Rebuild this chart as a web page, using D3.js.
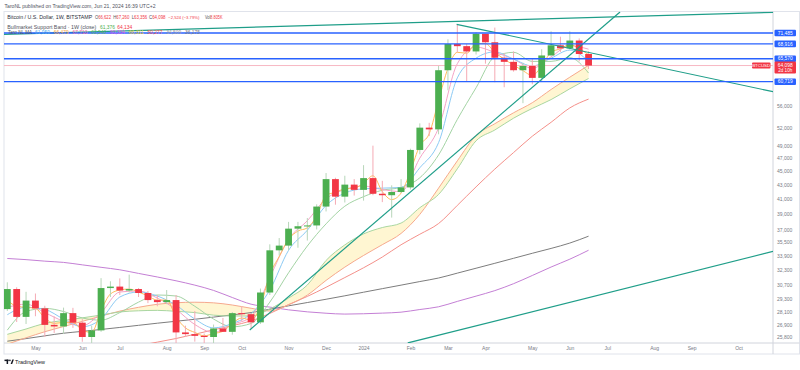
<!DOCTYPE html>
<html>
<head>
<meta charset="utf-8">
<script src="https://cdn.jsdelivr.net/npm/d3@7"></script>
<style>
  body { margin: 0; background: #fff; }
  svg { display: block; font-family: "Liberation Sans", Arial, sans-serif; }
</style>
</head>
<body>
<svg id="chart" width="800" height="370"></svg>
<script>
// BTCUSD weekly candles (Bitstamp), Apr 2023 - Jun 2024
const weekDates = [
  "2023-04-10", "2023-04-17", "2023-04-24", "2023-05-01", "2023-05-08", "2023-05-15", "2023-05-22", "2023-05-29",
  "2023-06-05", "2023-06-12", "2023-06-19", "2023-06-26", "2023-07-03", "2023-07-10", "2023-07-17", "2023-07-24",
  "2023-07-31", "2023-08-07", "2023-08-14", "2023-08-21", "2023-08-28", "2023-09-04", "2023-09-11", "2023-09-18",
  "2023-09-25", "2023-10-02", "2023-10-09", "2023-10-16", "2023-10-23", "2023-10-30", "2023-11-06", "2023-11-13",
  "2023-11-20", "2023-11-27", "2023-12-04", "2023-12-11", "2023-12-18", "2023-12-25", "2024-01-01", "2024-01-08",
  "2024-01-15", "2024-01-22", "2024-01-29", "2024-02-05", "2024-02-12", "2024-02-19", "2024-02-26", "2024-03-04",
  "2024-03-11", "2024-03-18", "2024-03-25", "2024-04-01", "2024-04-08", "2024-04-15", "2024-04-22", "2024-04-29",
  "2024-05-06", "2024-05-13", "2024-05-20", "2024-05-27", "2024-06-03", "2024-06-10", "2024-06-17"
];
const opens = [
  28330, 30300, 27600, 29150, 28400, 26870, 26730, 27950, 27070, 25800, 26380, 30400, 30550, 30150, 30300, 29900,
  29200, 29000, 29200, 26200, 26050, 25900, 25800, 26550, 26250, 27950, 27850, 27100, 29950, 34500, 35050, 37100,
  37400, 37500, 39950, 43800, 41300, 43000, 42250, 43950, 41700, 41500, 41950, 42600, 48300, 52050, 51750, 63100,
  68900, 68400, 67200, 71300, 69300, 65800, 64900, 63100, 64000, 61500, 66300, 68600, 67900, 69700, 66622
];
const highs = [
  30990, 30480, 30020, 29850, 28650, 27650, 28470, 28450, 27400, 26800, 31430, 31100, 31400, 31800, 30400, 30100,
  29700, 30200, 29700, 26800, 28150, 26100, 26900, 27500, 28050, 28580, 27950, 30350, 35200, 35950, 37950, 37950,
  38450, 40250, 44700, 44000, 44300, 43800, 45900, 49000, 43550, 42900, 43800, 48500, 52800, 52900, 64000, 70000,
  73600, 68900, 71700, 71300, 72800, 66800, 67200, 64700, 65500, 67700, 71900, 70600, 71900, 70200, 67260
];
const lows = [
  28150, 27130, 26950, 27660, 25810, 26150, 26080, 26600, 25390, 24800, 26250, 29500, 29700, 29950, 29500, 28900,
  28600, 28800, 25200, 25800, 25400, 24900, 24900, 26350, 26000, 27200, 26550, 26950, 29700, 33900, 34500, 34800,
  35650, 37000, 39300, 40200, 40500, 41450, 40750, 41500, 40550, 38500, 41800, 42300, 47600, 50600, 50900, 59000,
  67000, 60800, 66500, 64500, 60600, 59600, 62800, 56500, 60200, 60700, 66300, 67100, 67600, 65000, 63356
];
const closes = [
  30300, 27600, 29150, 28400, 26870, 26730, 27950, 27070, 25800, 26380, 30400, 30550, 30150, 30300, 29900, 29200,
  29000, 29200, 26200, 26050, 25900, 25800, 26550, 26250, 27950, 27850, 27100, 29950, 34500, 35050, 37100, 37400,
  37500, 39950, 43800, 41300, 43000, 42250, 43950, 41700, 41500, 41950, 42600, 48300, 52050, 51750, 63100, 68900,
  68400, 67200, 71300, 69300, 65800, 64900, 63100, 64000, 61500, 66300, 68600, 67900, 69700, 66622, 64098
];

// fast MA, one value per week
const maOrange = [
  29200, 28600, 28500, 28400, 27500, 27000, 27100, 27100, 26400, 26200, 28200, 29800, 30200, 30300, 30000, 29600,
  29200, 29200, 27600, 26600, 26200, 25900, 26100, 26300, 27000, 27500, 27300, 28600, 31800, 33800, 35800, 36800,
  37200, 38700, 41500, 41900, 42400, 42500, 43200, 44300, 42000, 40900, 41800, 45000, 49000, 51000, 57000, 63500,
  67000, 66800, 69000, 69000, 67000, 65500, 64200, 63000, 62000, 64000, 67000, 67800, 68800, 67800, 66479
];
// slower lines, read every second week (weeks 0, 2, 4 ... of weekDates)
const maBlue = [27800, 28500, 28300, 27400, 26700, 27400, 29500, 30000, 29600, 28700, 27400, 26600, 27000, 27900, 30200, 34500,
  36900, 40100, 41800, 42400, 42500, 42600, 45500, 49500, 61500, 65700, 67100, 65500, 64000, 65700, 67500, 65000];
const maPink = [28500, 28800, 28000, 27200, 26800, 28000, 30000, 30100, 29400, 28300, 26900, 26200, 26900, 27600, 31500, 35800,
  38100, 41000, 42300, 42800, 42300, 42000, 47000, 52000, 64500, 68200, 67000, 65500, 63500, 66000, 68500, 67710];
const maGreen = [26400, 28100, 28400, 28100, 27500, 27300, 28000, 29000, 29700, 29600, 28600, 27400, 26700, 27000, 29000, 32000,
  35000, 37700, 40000, 41300, 42200, 42600, 44000, 47500, 53500, 59500, 66000, 67000, 65000, 65000, 65800, 62500];
const bandSma = [25190, 25730, 26260, 26720, 27190, 27670, 28140, 28500, 28790, 28940, 28990, 28930, 28720, 28410, 28150, 28740,
  29690, 31190, 32610, 33910, 35160, 36510, 38920, 42500, 46570, 50700, 52740, 54710, 56590, 59150, 61640, 64134];
const bandEma = [26030, 26500, 27010, 27270, 27510, 27770, 28060, 28170, 28210, 28120, 28000, 27760, 27680, 27680, 28340, 29400,
  30710, 33350, 35130, 36450, 37240, 37800, 39800, 41610, 45340, 49800, 51640, 53730, 55520, 57180, 59290, 61376];
const maRed = [23490, 23730, 23970, 24210, 24410, 24620, 24790, 25070, 25360, 25670, 26040, 26430, 26800, 27230, 27920, 28760,
  29560, 30480, 31490, 32540, 33730, 35150, 36410, 37740, 40110, 42680, 45300, 47880, 50580, 52990, 55610, 57277];
const maGrey = [25440, 25660, 25900, 26130, 26290, 26460, 26640, 26830, 27020, 27200, 27380, 27580, 27790, 28000, 28320, 28640,
  28960, 29280, 29620, 29980, 30340, 30700, 31070, 31440, 31960, 32490, 33030, 33590, 34160, 34720, 35350, 36175];
const maPurple = [33570, 33440, 33270, 33130, 32860, 32590, 32320, 31930, 31550, 31150, 30700, 30160, 29450, 28800, 28520, 28260,
  28070, 27940, 27860, 27890, 27950, 28040, 28290, 28550, 29070, 29590, 30140, 30850, 31710, 32620, 33490, 34509];

// drawings
const trendLines = [
  [["2023-04-04T13:00Z", 71130], ["2024-11-01T17:00Z", 76600]],
  [["2023-10-08T00:00Z", 26415], ["2024-07-10T12:00Z", 76700]],
  [["2024-03-10T12:00Z", 73600], ["2024-11-01T17:00Z", 58720]],
  [["2024-02-03T00:00Z", 25290], ["2024-11-01T17:00Z", 34370]]
];
const levels = [71485, 68916, 65570, 60719];
const lastPrice = 64098;

// axes
const priceTicks = [56000, 52000, 49000, 47000, 45000, 43000, 41000, 39000, 37000, 35500, 33900, 32300, 30700, 29300, 28100, 26900, 25800];
const monthDates = ["2023-05-01", "2023-06-05", "2023-07-03", "2023-08-07", "2023-09-04", "2023-10-02", "2023-11-06", "2023-12-04",
  "2024-01-01", "2024-02-05", "2024-03-04", "2024-04-01", "2024-05-06", "2024-06-03", "2024-07-01", "2024-08-05", "2024-09-02", "2024-10-07"];
const monthLabels = ["May", "Jun", "Jul", "Aug", "Sep", "Oct", "Nov", "Dec", "2024", "Feb", "Mar", "Apr", "May", "Jun", "Jul", "Aug", "Sep", "Oct"];

// legend values
const maLegendValues = ["61,959", "66,479", "67,710", "60,540", "60,334", "66,311", "50,277", "34,509", "36,175"];
const maLegendColors = ["#5ab0f0", "#f5a23a", "#f06a9a", "#5fb563", "#d84fe8", "#e3c21c", "#ef5350", "#9a9aa6", "#787b86"];

const pane = { left: 4, right: 773, top: 11.5, bottom: 343 };
const green = "#4caf50", red = "#f23645", teal = "#1f9e89", blue = "#2962ff";

const svg = d3.select("#chart");

const x = d3.scaleUtc()
  .domain([new Date(Date.UTC(2023, 3, 4, 13)), new Date(Date.UTC(2024, 10, 1, 17))])
  .range([0, pane.right]);
const y = d3.scaleLog()
  .domain([25800, 71485])
  .range([337, 33]);

// frame
svg.append("rect")
  .attr("x", pane.left).attr("y", pane.top)
  .attr("width", 799.5 - pane.left).attr("height", 354 - pane.top)
  .attr("fill", "none").attr("stroke", "#e0e3eb");
svg.append("line").attr("x1", pane.left).attr("x2", 799.5).attr("y1", pane.bottom).attr("y2", pane.bottom).attr("stroke", "#d1d4dc");
svg.append("line").attr("x1", pane.right).attr("x2", pane.right).attr("y1", pane.top).attr("y2", 354).attr("stroke", "#d1d4dc");

svg.append("clipPath").attr("id", "pane")
  .append("rect")
  .attr("x", pane.left).attr("y", pane.top)
  .attr("width", pane.right - pane.left).attr("height", pane.bottom - pane.top);
const plot = svg.append("g").attr("clip-path", "url(#pane)");

const sampleDates = weekDates.filter((d, i) => i % 2 === 0).map(d => new Date(d));
const allDates = weekDates.map(d => new Date(d));

// bull market support band fill
const band = sampleDates.map((d, i) => ({ date: d, a: bandSma[i], b: bandEma[i] }));
plot.append("path")
  .datum(band)
  .attr("fill", "#fff2bf")
  .attr("fill-opacity", 0.7)
  .attr("d", d3.area()
    .x(d => x(d.date))
    .y0(d => y(d.a))
    .y1(d => y(d.b))
    .curve(d3.curveMonotoneX));

function drawLine(dates, values, color, w) {
  plot.append("path")
    .datum(values.map((v, i) => [dates[i], v]))
    .attr("fill", "none")
    .attr("stroke", color)
    .attr("stroke-width", w || 1)
    .attr("d", d3.line().x(d => x(d[0])).y(d => y(d[1])).curve(d3.curveMonotoneX));
}

drawLine(sampleDates, maGrey, "#7d7d7d", 1);
drawLine(sampleDates, maPurple, "#c47fd5", 1);
drawLine(sampleDates, maRed, "#f4908a", 1);
drawLine(sampleDates, bandSma, "#f6a98e", 1);
drawLine(sampleDates, bandEma, "#a9d6a0", 1);
drawLine(sampleDates, maGreen, "#a3d3a4", 1);
drawLine(sampleDates, maPink, "#f4a3c6", 1);
drawLine(sampleDates, maBlue, "#8ccaf4", 1);
drawLine(allDates, maOrange, "#ffbb5c", 1);

// last price line
plot.append("line")
  .attr("x1", pane.left).attr("x2", pane.right)
  .attr("y1", y(lastPrice)).attr("y2", y(lastPrice))
  .attr("stroke", "#f7b8c4").attr("stroke-width", 1);

// candles
const candles = weekDates.map((d, i) => ({ date: new Date(d), o: opens[i], h: highs[i], l: lows[i], c: closes[i] }));
const bodyW = 6.8;
plot.append("g").selectAll("line")
  .data(candles)
  .join("line")
  .attr("x1", d => x(d.date)).attr("x2", d => x(d.date))
  .attr("y1", d => y(d.h)).attr("y2", d => y(d.l))
  .attr("stroke", d => d.c >= d.o ? "#b7d6b9" : "#f5aab4")
  .attr("stroke-width", 1);
plot.append("g").selectAll("rect")
  .data(candles)
  .join("rect")
  .attr("x", d => x(d.date) - bodyW / 2)
  .attr("width", bodyW)
  .attr("y", d => y(Math.max(d.o, d.c)))
  .attr("height", d => Math.max(1, Math.abs(y(d.o) - y(d.c))))
  .attr("fill", d => d.c >= d.o ? green : red);

// trend lines
plot.append("g").selectAll("line")
  .data(trendLines)
  .join("line")
  .attr("x1", d => x(new Date(d[0][0]))).attr("y1", d => y(d[0][1]))
  .attr("x2", d => x(new Date(d[1][0]))).attr("y2", d => y(d[1][1]))
  .attr("stroke", teal).attr("stroke-width", 1.2);

// horizontal levels
plot.append("g").selectAll("line")
  .data(levels)
  .join("line")
  .attr("x1", pane.left).attr("x2", pane.right)
  .attr("y1", d => y(d)).attr("y2", d => y(d))
  .attr("stroke", blue).attr("stroke-width", 1.3);

// price axis
svg.append("g")
  .attr("transform", `translate(${pane.right},0)`)
  .call(d3.axisRight(y).tickValues(priceTicks).tickSize(0).tickPadding(4).tickFormat(d3.format(",")))
  .call(g => g.select(".domain").remove())
  .attr("font-size", 5).attr("font-family", null)
  .selectAll("text").attr("fill", "#787b86");

// time axis
svg.append("g")
  .attr("transform", `translate(0,${pane.bottom})`)
  .call(d3.axisBottom(x).tickValues(monthDates.map(d => new Date(d))).tickSize(0).tickPadding(3.2)
    .tickFormat((d, i) => monthLabels[i]))
  .call(g => g.select(".domain").remove())
  .attr("font-size", 5).attr("font-family", null)
  .selectAll("text").attr("fill", "#787b86");

// price labels on the axis
const tagX = pane.right + 1.5, tagW = 21.5;
const tags = svg.append("g");
levels.forEach(v => {
  tags.append("rect").attr("x", tagX).attr("y", y(v) - 3.3).attr("width", tagW).attr("height", 6.6).attr("rx", 1).attr("fill", blue);
  tags.append("text").attr("x", tagX + tagW / 2).attr("y", y(v)).attr("dy", "0.35em")
    .attr("text-anchor", "middle").attr("font-size", 4.9).attr("fill", "#fff").text(d3.format(",")(v));
});
tags.append("rect").attr("x", tagX).attr("y", y(lastPrice) - 4).attr("width", tagW).attr("height", 12).attr("rx", 1).attr("fill", red);
tags.append("text").attr("x", tagX + tagW / 2).attr("y", y(lastPrice)).attr("dy", "0.35em")
  .attr("text-anchor", "middle").attr("font-size", 4.9).attr("fill", "#fff").text(d3.format(",")(lastPrice));
tags.append("text").attr("x", tagX + tagW / 2).attr("y", y(lastPrice) + 5.2).attr("dy", "0.35em")
  .attr("text-anchor", "middle").attr("font-size", 4.6).attr("fill", "#fff").text("2d 10h");
tags.append("rect").attr("x", 752).attr("y", y(lastPrice) - 3).attr("width", 18.5).attr("height", 6).attr("rx", 1).attr("fill", red);
tags.append("text").attr("x", 761.2).attr("y", y(lastPrice)).attr("dy", "0.35em")
  .attr("text-anchor", "middle").attr("font-size", 4.4).attr("fill", "#fff").text("BTCUSD");

// header and legends; each piece is fitted to the width it has in the screenshot
function label(xp, yp, len, parts, size) {
  const t = svg.append("text").attr("x", xp).attr("y", yp).attr("font-size", size || 5.1);
  parts.forEach(([s, c]) => t.append("tspan").attr("fill", c).text(s));
  if (len) t.attr("textLength", len).attr("lengthAdjust", "spacingAndGlyphs");
  return t;
}
const grey = "#50535e";
label(4.5, 8, 151, [["TaroNL published on TradingView.com, Jun 21, 2024 16:39 UTC+2", grey]]);

const r1 = 19.2, s1 = 4.6;
label(7.3, r1, 85, [["Bitcoin / U.S. Dollar, 1W, BITSTAMP", "#2a2e39"]], 5.1);
label(95, r1, 16, [["O", grey], ["66,622", red]], s1);
label(113.3, r1, 16, [["H", grey], ["67,260", red]], s1);
label(131.7, r1, 15.5, [["L", grey], ["63,356", red]], s1);
label(149, r1, 16.5, [["C", grey], ["64,098", red]], s1);
label(168.3, r1, 31, [["\u22122,524 (\u22123.79%)", red]], 4.2);
label(205, r1, 17.5, [["Vol", grey], ["8.805K", red]], s1);

const r2 = 28.5;
label(7.3, r2, 89, [["Bullmarket Support Band \u00b7 1W (close)", grey]]);
label(100, r2, 15, [["61,376", green]]);
label(117.3, r2, 15, [["64,134", red]]);

const r3 = 34.3;
label(8, r3, 24, [["Taro NL MA", grey]]);
maLegendValues.forEach((v, i) => label(35 + i * 18.75, r3, 15, [[v, maLegendColors[i]]], 4.9));

// TradingView mark
const logo = svg.append("g").attr("fill", "#131722");
logo.append("rect").attr("x", 4.5).attr("y", 359.6).attr("width", 4.2).attr("height", 1.5);
logo.append("rect").attr("x", 6.6).attr("y", 359.6).attr("width", 1.5).attr("height", 4.4);
logo.append("circle").attr("cx", 9.9).attr("cy", 360.4).attr("r", 0.8);
logo.append("path").attr("d", "M10.6,364 L12.3,359.6 L13.9,359.6 L12.2,364 Z");
label(15, 364.2, 30, [["TradingView", "#131722"]], 5.6);
</script>
</body>
</html>
